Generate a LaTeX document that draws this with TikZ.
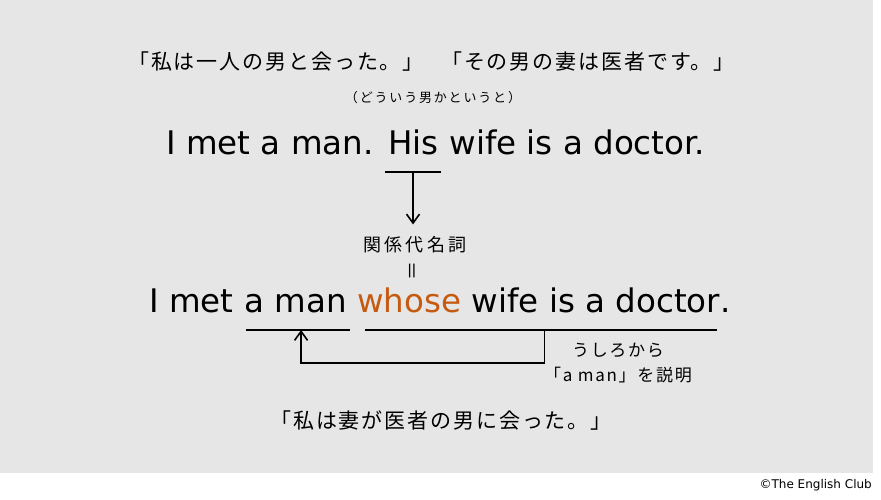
\documentclass[tikz,border=0pt]{standalone}
\usepackage{fontspec}
\setmainfont{DejaVu Sans}
\newfontfamily\jpA[LetterSpace=9]{Noto Sans CJK JP}
\newfontfamily\jpB[LetterSpace=18]{Noto Sans CJK JP}
\newfontfamily\jpC[LetterSpace=10]{Noto Sans CJK JP}
\newfontfamily\jpD[LetterSpace=14]{Noto Sans CJK JP}
\usetikzlibrary{calc,arrows.meta}
\definecolor{bg}{RGB}{230,230,230}
\definecolor{wh}{RGB}{197,90,17}
\tikzset{
  en/.style={font=\fontsize{32.5}{38}\selectfont, anchor=base west, inner sep=0pt},
  jbig/.style={font=\jpA\fontsize{21}{25}\selectfont, inner sep=0pt},
  jmid/.style={font=\jpB\fontsize{18}{22}\selectfont, inner sep=0pt},
  jsmall/.style={font=\jpC\fontsize{17}{21}\selectfont, inner sep=0pt},
  jsub/.style={font=\jpD\fontsize{13}{16}\selectfont, inner sep=0pt},
  ln/.style={line width=1.6pt, black},
  arr/.style={line width=1.6pt, black, -{Straight Barb[length=9pt,width=13pt,line width=1.6pt]}}
}
\begin{document}
\begin{tikzpicture}[x=1pt,y=-1pt]
\useasboundingbox (0,0) rectangle (881,500);
\fill[bg] (0,0) rectangle (873,473);

% Japanese headings
\node[jbig] (j1) at (276,62) {「私は一人の男と会った。」};
\node[jbig] (j2) at (588,62) {「その男の妻は医者です。」};
\node[jsub] (sub) at (433,98) {（どういう男かというと）};

% Sentence 1
\node[en] (s1a) at (166,154) {I met a man.\ \hspace{4pt}\mbox{}};
\node[en] (s1b) at (s1a.base east) {His};
\node[en] (s1c) at (s1b.base east) {\ wife is a doctor.};

\coordinate (h1) at ($(s1b.base west)+(-3,18)$);
\coordinate (h2) at ($(s1b.base east)+(2,18)$);
\draw[ln] (h1) -- (h2);
\coordinate (hm) at ($(h1)!0.5!(h2)$);

\node[jmid] (rel) at (415,245) {関係代名詞};
\node[font=\jpC\fontsize{19}{22}\selectfont, inner sep=0pt, rotate=90] (eq) at (414,271) {＝};
\coordinate (at) at ($(hm |- rel.north)+(0,-12)$);
\draw[arr] (hm) -- (at);

% Sentence 2
\node[en] (s2a) at (149,312) {I met\ \mbox{}};
\node[en] (s2b) at (s2a.base east) {a man};
\node[en] (s2d) at (s2b.base east) {\ \textcolor{wh}{whose} wife is a doctor};
\node[en] (s2e) at (s2d.base east) {.};

\coordinate (u1l) at ($(s2b.base west)+(2,18)$);
\coordinate (u1r) at ($(s2b.base east)+(3,18)$);
\coordinate (u2l) at ($(s2d.base west)+(18,18)$);
\coordinate (u2r) at ($(s2d.base east)+(-3,18)$);
\draw[ln] (u1l) -- (u1r);
\draw[ln] (u2l) -- (u2r);
\coordinate (ua) at ($(u1l)!0.53!(u1r)$);
\coordinate (ub) at ($(u2l)!0.51!(u2r)$);
\draw[arr] (ub) -- ++(0,33) -| (ua);

\node[jsmall] (n1) at (618,350) {うしろから};
\node[jsmall] (n2) at (618,375) {「a man」を説明};

\node[jbig] (j3) at (441,421) {「私は妻が医者の男に会った。」};

\node[font=\fontsize{12}{14}\selectfont, anchor=east, inner sep=0pt] (cr) at (872,485) {©The English Club};
\end{tikzpicture}
\end{document}
